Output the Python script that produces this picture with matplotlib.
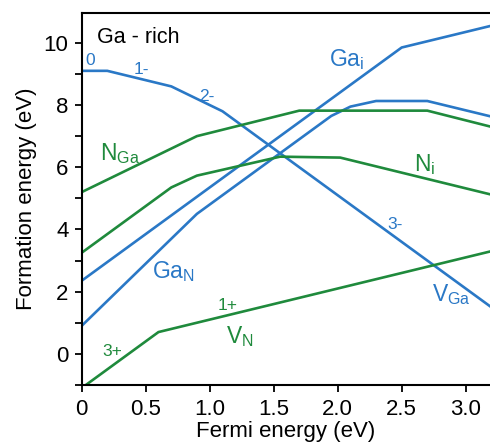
import matplotlib
matplotlib.use("Agg")
import matplotlib.pyplot as plt
from matplotlib.ticker import MultipleLocator

plt.rcParams['font.family'] = ['Liberation Sans', 'DejaVu Sans']
plt.rcParams['mathtext.fontset'] = 'custom'
plt.rcParams['mathtext.rm'] = 'Liberation Sans'
plt.rcParams['mathtext.it'] = 'Liberation Sans'
plt.rcParams['mathtext.default'] = 'rm'

BLUE = '#2a78c6'
GREEN = '#1f8a3c'

# Data (Fermi energy, formation energy)
vga_x = [0.0, 0.2, 0.7, 1.1, 3.2]
vga_y = [9.1, 9.1, 8.6, 7.8, 1.5]

gai_x = [0.0, 2.5, 3.2]
gai_y = [2.35, 9.85, 10.55]

gan_x = [0.0, 0.9, 1.95, 2.1, 2.3, 2.7, 3.2]
gan_y = [0.9, 4.5, 7.65, 7.95, 8.13, 8.13, 7.63]

nga_x = [0.0, 0.9, 1.7, 2.7, 3.2]
nga_y = [5.2, 7.0, 7.82, 7.82, 7.3]

ni_x = [0.0, 0.7, 0.9, 1.55, 2.02, 3.2]
ni_y = [3.25, 5.35, 5.73, 6.34, 6.31, 5.12]

vn_x = [0.0, 0.6, 3.2]
vn_y = [-1.1, 0.7, 3.3]

xticks = [0, 0.5, 1.0, 1.5, 2.0, 2.5, 3.0]
xticklabels = ['0', '0.5', '1.0', '1.5', '2.0', '2.5', '3.0']
yticks = [0, 2, 4, 6, 8, 10]

fig = plt.figure(figsize=(4.9, 4.45), dpi=100)
ax = fig.add_axes([0.1667, 0.135, 0.8333, 0.8365])

lw = 1.9
for xs, ys, c in [(vga_x, vga_y, BLUE), (gai_x, gai_y, BLUE), (gan_x, gan_y, BLUE),
                  (nga_x, nga_y, GREEN), (ni_x, ni_y, GREEN), (vn_x, vn_y, GREEN)]:
    ax.plot(xs, ys, color=c, lw=lw, solid_joinstyle='miter')

ax.set_xlim(0, 3.19)
ax.set_ylim(-1, 10.97)
ax.set_xticks(xticks)
ax.set_xticklabels(xticklabels)
ax.set_yticks(yticks)
ax.yaxis.set_minor_locator(MultipleLocator(1))

for s in ['left', 'bottom', 'top']:
    ax.spines[s].set_linewidth(1.5)
ax.spines['right'].set_visible(False)
ax.tick_params(axis='both', which='both', direction='out', width=1.3, length=5,
               labelsize=16, pad=5)
ax.tick_params(axis='y', pad=4.5)

ax.set_xlabel('Fermi energy (eV)', fontsize=16, labelpad=1)
ax.set_ylabel('Formation energy (eV)', fontsize=16, labelpad=5)

# Annotations
ax.text(0.12, 10.16, 'Ga - rich', fontsize=15.5, color='black', va='center', ha='left')
small = 12.5
ax.text(0.025, 9.42, '0', fontsize=small, color=BLUE, va='center', ha='left')
ax.text(0.47, 9.15, '1-', fontsize=small, color=BLUE, va='center', ha='center')
ax.text(0.98, 8.28, '2-', fontsize=small, color=BLUE, va='center', ha='center')
ax.text(2.45, 4.17, '3-', fontsize=small, color=BLUE, va='center', ha='center')
ax.text(1.14, 1.55, '1+', fontsize=small, color=GREEN, va='center', ha='center')
ax.text(0.24, 0.06, '3+', fontsize=small, color=GREEN, va='center', ha='center')

big = 16.5
ax.text(0.14, 6.45, r'N$_{\mathrm{Ga}}$', fontsize=big, color=GREEN, va='center', ha='left')
ax.text(1.93, 9.45, r'Ga$_{\mathrm{i}}$', fontsize=big, color=BLUE, va='center', ha='left')
ax.text(2.6, 6.1, r'N$_{\mathrm{i}}$', fontsize=big, color=GREEN, va='center', ha='left')
ax.text(0.55, 2.65, r'Ga$_{\mathrm{N}}$', fontsize=big, color=BLUE, va='center', ha='left')
ax.text(2.74, 1.9, r'V$_{\mathrm{Ga}}$', fontsize=big, color=BLUE, va='center', ha='left')
ax.text(1.13, 0.55, r'V$_{\mathrm{N}}$', fontsize=big, color=GREEN, va='center', ha='left')

fig.savefig('out.png', dpi=100)
